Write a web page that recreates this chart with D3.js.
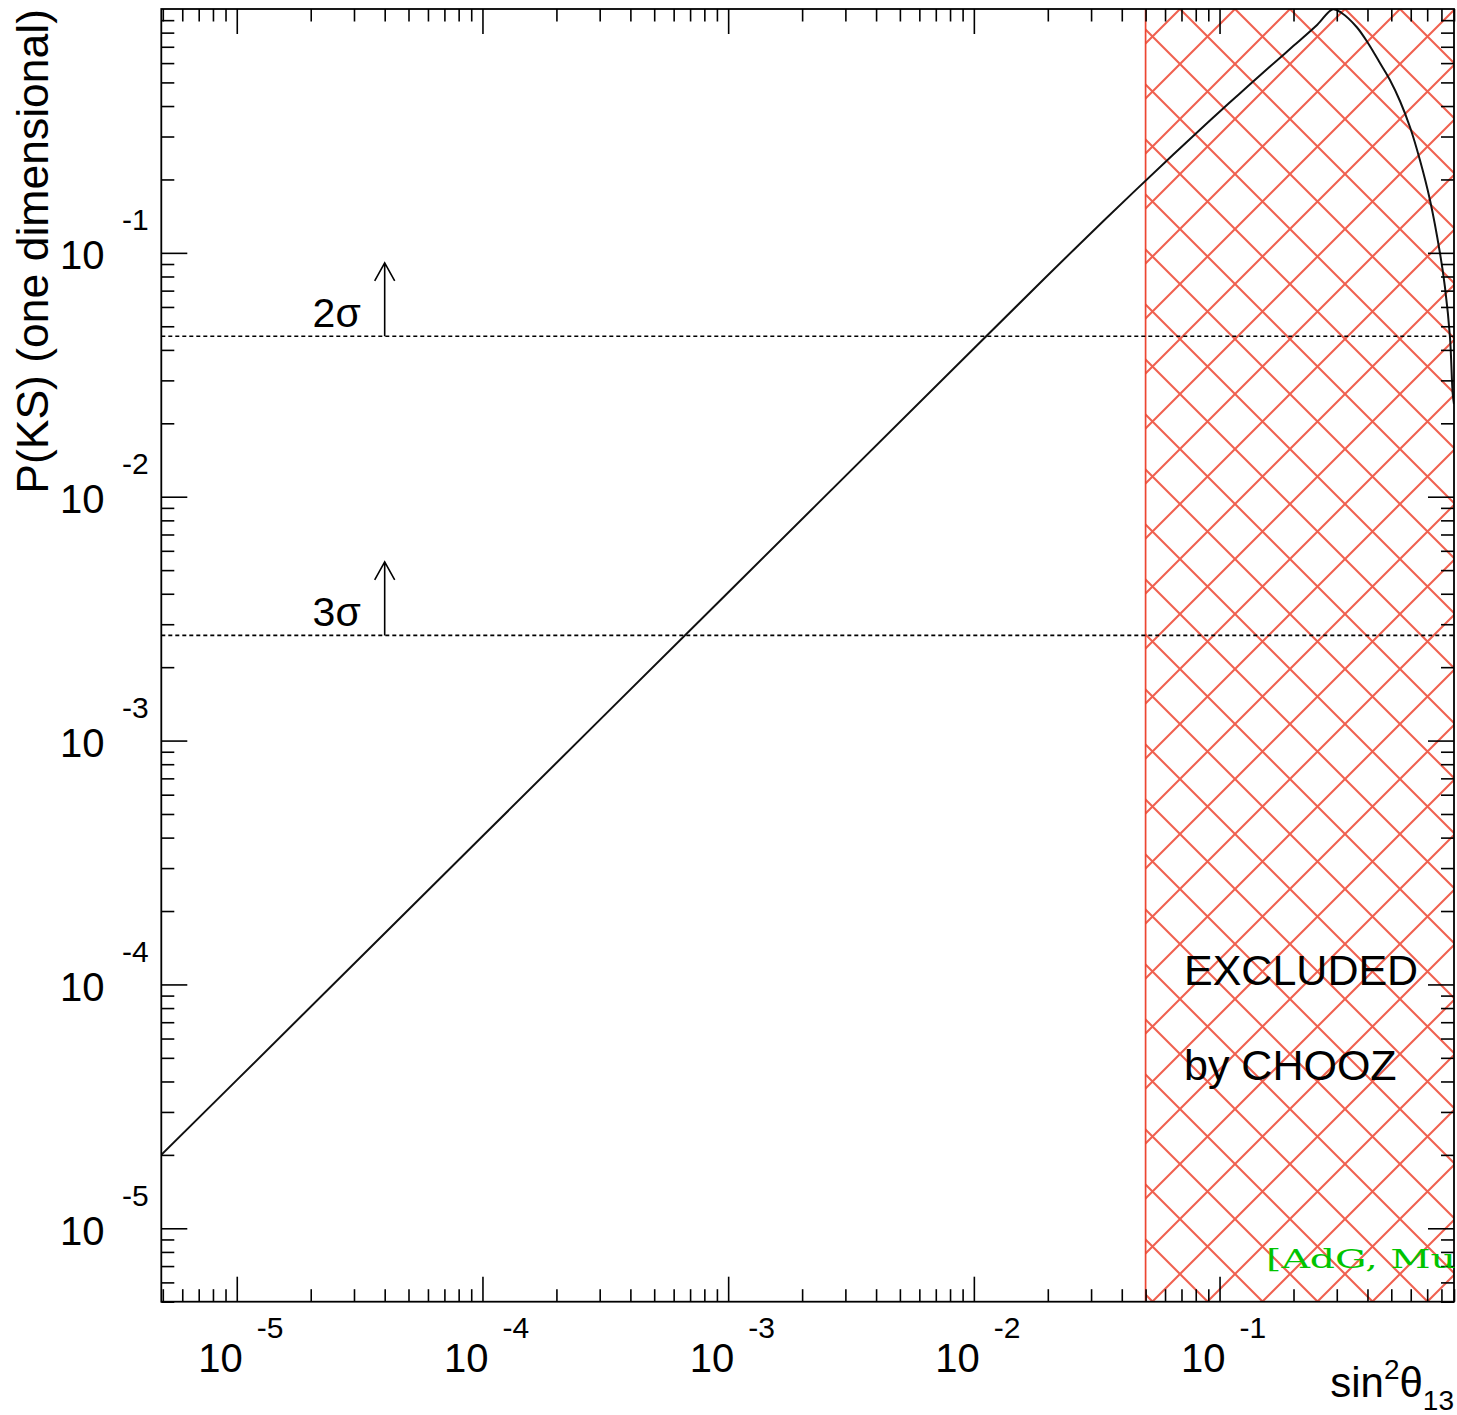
<!DOCTYPE html>
<html>
<head>
<meta charset="utf-8">
<script src="https://cdn.jsdelivr.net/npm/d3@7"></script>
<style>
  html, body { margin: 0; padding: 0; background: #fff; }
  svg { display: block; }
  text { font-family: "Liberation Sans", Arial, Helvetica, sans-serif; fill: #000; }
</style>
</head>
<body>
<svg id="chart" width="1457" height="1415"></svg>
<script>
// ---------------- data ----------------
// sin^2(theta13) values and P(KS)
const curveS = [4.93e-6, 1e-5, 1e-4, 1e-3, 1e-2, 0.02, 0.03, 0.045, 0.065, 0.09, 0.12,
  0.16, 0.2, 0.25, 0.2893, 0.3141, 0.3614, 0.4018, 0.4496, 0.4938, 0.5424,
  0.5957, 0.6539, 0.7185, 0.789, 0.8269, 0.8666, 0.8888, 0.9];
const curveP = [2.0e-5, 4.05e-5, 4.05e-4, 4.05e-3, 4.05e-2, 0.081, 0.1206, 0.1787, 0.2535, 0.3438, 0.4476,
  0.5792, 0.706, 0.8625, 0.998, 0.963, 0.8437, 0.7253, 0.6005, 0.5115, 0.4195,
  0.3281, 0.2403, 0.1647, 0.0999, 0.0724, 0.0452, 0.0266, 0.024];

const sigmaLabels = ["2σ", "3σ"];
const sigmaP = [0.0455, 0.0027];
const arrowS = 4e-5;

const excludedFrom = 0.05;          // CHOOZ excluded region: sin^2 >= 0.05
const xDomain = [4.93e-6, 0.9];
const yDomain = [5e-6, 1];
const xMajorTicks = [1e-5, 1e-4, 1e-3, 1e-2, 1e-1];
const xTickExps = ["-5", "-4", "-3", "-2", "-1"];
const yMajorTicks = [1e-1, 1e-2, 1e-3, 1e-4, 1e-5];
const yTickExps = ["-1", "-2", "-3", "-4", "-5"];
const minorMultipliers = [2, 3, 4, 5, 6, 7, 8, 9];
const decades = [1e-6, 1e-5, 1e-4, 1e-3, 1e-2, 1e-1];

// ---------------- layout ----------------
const L = 161.3, R = 1454, T = 9, B = 1301.7;
const svg = d3.select("#chart");
svg.append("rect").attr("width", 1457).attr("height", 1415).attr("fill", "#fff");

const x = d3.scaleLog().domain(xDomain).range([L, R]);
const y = d3.scaleLog().domain(yDomain).range([B, T]);

const inDom = (v, d) => v >= d[0] * 0.9999 && v <= d[1] * 1.0001;
const xMinor = [], yMinor = [];
decades.forEach(d => minorMultipliers.forEach(m => {
  const v = d * m;
  if (inDom(v, xDomain)) xMinor.push(v);
  if (inDom(v, yDomain)) yMinor.push(v);
}));

const defs = svg.append("defs");
defs.append("clipPath").attr("id", "plotClip")
  .append("rect").attr("x", L).attr("y", T).attr("width", R - L).attr("height", B - T);

const pat = defs.append("pattern").attr("id", "hatch")
  .attr("patternUnits", "userSpaceOnUse")
  .attr("x", 1180).attr("y", T).attr("width", 55).attr("height", 55);
pat.append("path")
  .attr("d", "M0,0L55,55 M-10,45L10,65 M45,-10L65,10 M0,55L55,0 M-10,10L10,-10 M45,65L65,45")
  .attr("stroke", "rgb(236,62,42)").attr("stroke-opacity", 0.82)
  .attr("stroke-width", 2.1).attr("fill", "none");

const plot = svg.append("g").attr("clip-path", "url(#plotClip)");

// excluded region
plot.append("rect")
  .attr("x", x(excludedFrom)).attr("y", T)
  .attr("width", x(xDomain[1]) - x(excludedFrom)).attr("height", B - T)
  .attr("fill", "url(#hatch)");
plot.append("line")
  .attr("x1", x(excludedFrom)).attr("x2", x(excludedFrom))
  .attr("y1", T).attr("y2", B)
  .attr("stroke", "rgb(236,70,50)").attr("stroke-width", 1.7);

// sigma dashed lines
plot.selectAll(".sig").data(sigmaP).enter().append("line")
  .attr("x1", L).attr("x2", R)
  .attr("y1", d => y(d)).attr("y2", d => y(d))
  .attr("stroke", "#000").attr("stroke-width", 1.6)
  .attr("stroke-dasharray", "4,3");

// curve
const pts = curveS.map((s, i) => [s, curveP[i]]);
plot.append("path")
  .datum(pts)
  .attr("d", d3.line().x(d => x(d[0])).y(d => y(d[1])).curve(d3.curveCatmullRom.alpha(0.5)))
  .attr("fill", "none").attr("stroke", "#111").attr("stroke-width", 2);

// arrows and sigma labels
sigmaP.forEach((p, i) => {
  const ax = x(arrowS), y0 = y(p), y1 = y(p * 2);
  svg.append("path")
    .attr("d", `M${ax},${y0}L${ax},${y1} M${ax - 10},${y1 + 18}L${ax},${y1}L${ax + 10},${y1 + 18}`)
    .attr("fill", "none").attr("stroke", "#000").attr("stroke-width", 1.6);
  svg.append("text")
    .attr("x", ax - 24).attr("y", y0 - 9.5)
    .attr("text-anchor", "end").attr("font-size", 41)
    .text(sigmaLabels[i]);
});

// frame
svg.append("rect").attr("x", L).attr("y", T).attr("width", R - L).attr("height", B - T)
  .attr("fill", "none").attr("stroke", "#000").attr("stroke-width", 1.8);

// ticks via d3 axes
function styleAxis(g) {
  g.select(".domain").remove();
  g.selectAll("line").attr("stroke", "#000").attr("stroke-width", 1.6);
  g.selectAll("text").remove();
}
svg.append("g").attr("transform", `translate(0,${B})`)
  .call(d3.axisBottom(x).tickValues(xMajorTicks).tickSize(-25).tickFormat("")).call(styleAxis);
svg.append("g").attr("transform", `translate(0,${B})`)
  .call(d3.axisBottom(x).tickValues(xMinor).tickSize(-12.5).tickFormat("")).call(styleAxis);
svg.append("g").attr("transform", `translate(0,${T})`)
  .call(d3.axisTop(x).tickValues(xMajorTicks).tickSize(-25).tickFormat("")).call(styleAxis);
svg.append("g").attr("transform", `translate(0,${T})`)
  .call(d3.axisTop(x).tickValues(xMinor).tickSize(-12.5).tickFormat("")).call(styleAxis);
svg.append("g").attr("transform", `translate(${L},0)`)
  .call(d3.axisLeft(y).tickValues(yMajorTicks).tickSize(-26).tickFormat("")).call(styleAxis);
svg.append("g").attr("transform", `translate(${L},0)`)
  .call(d3.axisLeft(y).tickValues(yMinor).tickSize(-13).tickFormat("")).call(styleAxis);
svg.append("g").attr("transform", `translate(${R},0)`)
  .call(d3.axisRight(y).tickValues(yMajorTicks).tickSize(-26).tickFormat("")).call(styleAxis);
svg.append("g").attr("transform", `translate(${R},0)`)
  .call(d3.axisRight(y).tickValues(yMinor).tickSize(-13).tickFormat("")).call(styleAxis);

// tick labels
xMajorTicks.forEach((t, i) => {
  svg.append("text").attr("x", x(t) + 6).attr("y", 1371.7)
    .attr("text-anchor", "end").attr("font-size", 40).text("10");
  svg.append("text").attr("x", x(t) + 20).attr("y", 1338)
    .attr("text-anchor", "start").attr("font-size", 30).text(xTickExps[i]);
});
yMajorTicks.forEach((t, i) => {
  svg.append("text").attr("x", 104.5).attr("y", y(t) + 16.5)
    .attr("text-anchor", "end").attr("font-size", 40).text("10");
  svg.append("text").attr("x", 122).attr("y", y(t) - 22.5)
    .attr("text-anchor", "start").attr("font-size", 30).text(yTickExps[i]);
});

// axis titles
svg.append("text")
  .attr("transform", "translate(48,9) rotate(-90)")
  .attr("text-anchor", "end").attr("font-size", 44.5)
  .text("P(KS) (one dimensional)");

const xt = svg.append("text").attr("x", 1454).attr("y", 1396.7)
  .attr("text-anchor", "end").attr("font-size", 42);
xt.append("tspan").text("sin");
xt.append("tspan").attr("font-size", 28).attr("dy", -18).text("2");
xt.append("tspan").attr("dy", 18).text("θ");
xt.append("tspan").attr("font-size", 28).attr("dy", 13).text("13");

// region labels
svg.append("text").attr("x", 1184).attr("y", 985).attr("font-size", 43).text("EXCLUDED");
svg.append("text").attr("x", 1184).attr("y", 1080).attr("font-size", 43).text("by CHOOZ");

svg.append("text").attr("x", 1266).attr("y", 1268)
  .attr("font-size", 26)
  .attr("textLength", 190).attr("lengthAdjust", "spacingAndGlyphs")
  .style("font-family", "'DejaVu Serif', 'Liberation Serif', serif")
  .style("fill", "#00c400")
  .text("[AdG, Mu");
</script>
</body>
</html>
